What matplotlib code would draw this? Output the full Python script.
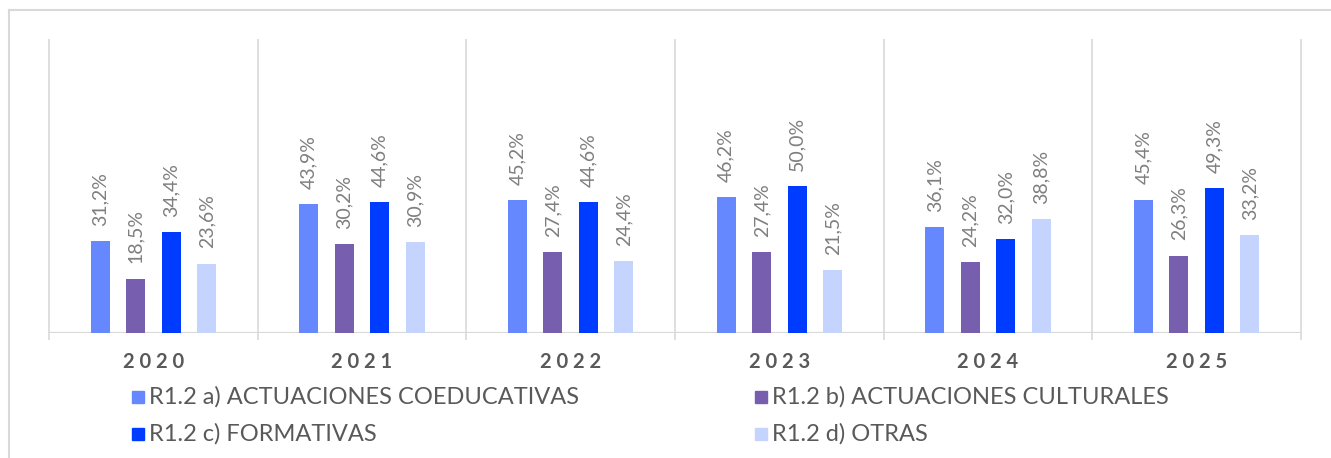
import numpy as np
import matplotlib
matplotlib.use('Agg')
import matplotlib.pyplot as plt
from matplotlib.lines import Line2D
from matplotlib.patches import Rectangle

# data
years = ['2020', '2021', '2022', '2023', '2024', '2025']
series = ['R1.2 a) ACTUACIONES COEDUCATIVAS', 'R1.2 b) ACTUACIONES CULTURALES',
          'R1.2 c) FORMATIVAS', 'R1.2 d) OTRAS']
coeducativas = [31.2, 43.9, 45.2, 46.2, 36.1, 45.4]
culturales = [18.5, 30.2, 27.4, 27.4, 24.2, 26.3]
formativas = [34.4, 44.6, 44.6, 50.0, 32.0, 49.3]
otras = [23.6, 30.9, 24.4, 21.5, 38.8, 33.2]
values = [coeducativas, culturales, formativas, otras]
colors = ['#6688FF', '#785EAF', '#003CFF', '#C5D3FF']

plt.rcParams['font.family'] = ['Lato', 'DejaVu Sans']
W, H = 1331, 458
fig = plt.figure(figsize=(W / 100, H / 100), dpi=100)
ax = fig.add_axes([49 / W, (H - 333) / H, (1301 - 49) / W, (333 - 39) / H])

x = np.arange(len(years))
step = 0.17
width = 0.091
for k, (vals, col) in enumerate(zip(values, colors)):
    bars = ax.bar(x + (k - 1.5) * step, vals, width, color=col, zorder=2)
    for b, v in zip(bars, vals):
        ax.annotate(('%.1f%%' % v).replace('.', ','),
                    (b.get_x() + b.get_width() / 2, v),
                    xytext=(0, 11), textcoords='offset points',
                    rotation=90, ha='center', va='bottom',
                    fontsize=14, color='#7F7F7F')

ax.set_xlim(-0.5, len(years) - 0.5)
ax.set_ylim(0, 100)
for s in ax.spines.values():
    s.set_visible(False)
ax.set_xticks([])
ax.set_yticks([])

grid = '#D9D9D9'
ax.axhline(0, color=grid, lw=1.6, zorder=1)
ax.vlines(np.arange(len(years) + 1) - 0.5, -0.024, 1,
          transform=ax.get_xaxis_transform(), color=grid, lw=1.2, clip_on=False)

for i, y in enumerate(years):
    ax.text(i, -0.099, ' '.join(y), transform=ax.get_xaxis_transform(),
            ha='center', va='center', fontsize=14.5, fontweight='bold', color='#595959')

# legend, two columns
leg_x = [132, 755]
leg_y = [397, 434]
for k, name in enumerate(series):
    lx = leg_x[k % 2]
    ly = leg_y[k // 2]
    fig.add_artist(Rectangle((lx / W, (H - ly - 6) / H), 12 / W, 12 / H,
                             transform=fig.transFigure, color=colors[k]))
    fig.text((lx + 17) / W, (H - ly) / H, name, ha='left', va='center',
             fontsize=17, color='#595959')

# outer frame (top and left visible)
fig.add_artist(Line2D([8.5 / W, 8.5 / W], [0, (H - 10) / H], color=grid, lw=1.5,
                      transform=fig.transFigure))
fig.add_artist(Line2D([8.5 / W, 1], [(H - 10) / H, (H - 10) / H], color=grid, lw=1.5,
                      transform=fig.transFigure))

fig.savefig('out.png', dpi=100)
